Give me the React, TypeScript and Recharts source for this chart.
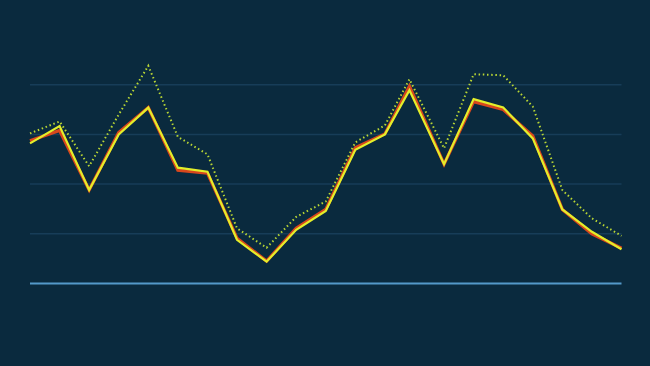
import { Line, LineChart, ReferenceLine, XAxis, YAxis } from 'recharts';

// x positions (the 14th point sits a bit early, as in the picture)
const positions = [0, 1, 2, 3, 4, 5, 6, 7, 8, 9, 10, 11, 12, 12.83, 14, 15, 16, 17, 18, 19, 20];

const redValues = [2.87, 3.08, 1.88, 3.04, 3.54, 2.28, 2.22, 0.91, 0.45, 1.11, 1.49, 2.73, 3.01, 3.97, 2.4, 3.66, 3.5, 2.97, 1.49, 1.0, 0.71];
const yellowValues = [2.82, 3.17, 1.88, 3.0, 3.54, 2.33, 2.25, 0.88, 0.44, 1.08, 1.46, 2.69, 3.0, 3.89, 2.4, 3.71, 3.54, 2.92, 1.49, 1.04, 0.69];
const dottedValues = [3.02, 3.26, 2.36, 3.4, 4.38, 2.95, 2.6, 1.11, 0.72, 1.34, 1.65, 2.84, 3.18, 4.11, 2.72, 4.21, 4.19, 3.56, 1.88, 1.31, 0.96];

const gridValues = [1, 2, 3, 4];

const data = positions.map((x, i) => ({
  x,
  red: redValues[i],
  yellow: yellowValues[i],
  dotted: dottedValues[i],
}));

export default function App() {
  return (
    <div
      style={{
        position: 'absolute',
        left: 0,
        top: 0,
        width: 650,
        height: 366,
        background: '#0a2a3e',
      }}
    >
      <LineChart
        width={650}
        height={366}
        data={data}
        margin={{ top: 35, right: 28.5, left: 30, bottom: 82.5 }}
      >
        <XAxis dataKey='x' type='number' domain={[0, 20]} hide={true} />
        <YAxis type='number' domain={[0, 5]} hide={true} />
        {gridValues.map((v) => (
          <ReferenceLine key={v} y={v} stroke='#173d58' strokeWidth={1.5} />
        ))}
        <ReferenceLine y={0} stroke='#5499c9' strokeWidth={2} />
        <Line
          dataKey='red'
          type='linear'
          stroke='#d8471d'
          strokeWidth={3.2}
          dot={false}
          isAnimationActive={false}
        />
        <Line
          dataKey='yellow'
          type='linear'
          stroke='#e3ee2a'
          strokeWidth={2.2}
          dot={false}
          isAnimationActive={false}
        />
        <Line
          dataKey='dotted'
          type='linear'
          stroke='#b9d634'
          strokeWidth={2}
          strokeDasharray='1.5 2.7'
          dot={false}
          isAnimationActive={false}
        />
      </LineChart>
    </div>
  );
}
